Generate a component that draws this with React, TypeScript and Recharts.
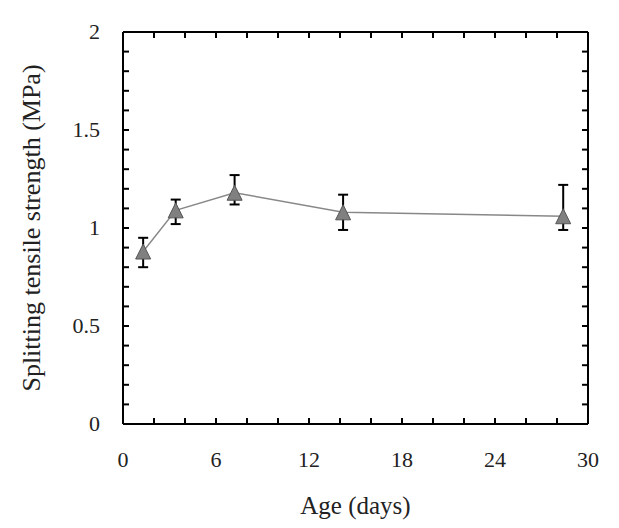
import React from 'react';
import { LineChart, Line, XAxis, YAxis, ErrorBar } from 'recharts';

const ages = [1.3, 3.4, 7.2, 14.2, 28.4];
const strength = [0.88, 1.09, 1.18, 1.08, 1.06];
const errLow = [0.08, 0.07, 0.06, 0.09, 0.07];
const errHigh = [0.07, 0.055, 0.09, 0.09, 0.16];

const xTicks = [0, 2, 4, 6, 8, 10, 12, 14, 16, 18, 20, 22, 24, 26, 28, 30];
const xLabels = [0, 6, 12, 18, 24, 30];
const yTicks = [0, 0.1, 0.2, 0.3, 0.4, 0.5, 0.6, 0.7, 0.8, 0.9, 1, 1.1, 1.2, 1.3, 1.4, 1.5, 1.6, 1.7, 1.8, 1.9, 2];
const yLabels = ['0', '0.5', '1', '1.5', '2'];

const data = ages.map((age, i) => ({
  age,
  strength: strength[i],
  err: [errLow[i], errHigh[i]],
}));

const FONT = 'Times New Roman, Liberation Serif, DejaVu Serif, Noto Serif, serif';
const TEXT = '#222';
const TICK_LEN = 6;
const textStyle = { fontFamily: FONT };

function BottomTick({ x, y, payload }: any) {
  const v = payload.value;
  const showLabel = xLabels.includes(v);
  return (
    <g>
      <line x1={x} y1={y} x2={x} y2={y - TICK_LEN} stroke="#000" strokeWidth={2} />
      {showLabel && (
        <text x={x} y={y + 43} textAnchor="middle" style={textStyle} fontFamily={FONT} fontSize={22} fill={TEXT}>
          {v}
        </text>
      )}
    </g>
  );
}

function TopTick({ x, y }: any) {
  return <line x1={x} y1={y} x2={x} y2={y + TICK_LEN} stroke="#000" strokeWidth={2} />;
}

function LeftTick({ x, y, payload }: any) {
  const label = String(Math.round(payload.value * 10) / 10);
  const showLabel = yLabels.includes(label);
  return (
    <g>
      <line x1={x} y1={y} x2={x + TICK_LEN} y2={y} stroke="#000" strokeWidth={2} />
      {showLabel && (
        <text x={x - 23} y={y + 7} textAnchor="end" style={textStyle} fontFamily={FONT} fontSize={22} fill={TEXT}>
          {label}
        </text>
      )}
    </g>
  );
}

function RightTick({ x, y }: any) {
  return <line x1={x} y1={y} x2={x - TICK_LEN} y2={y} stroke="#000" strokeWidth={2} />;
}

function TriangleDot({ cx, cy, index }: any) {
  if (cx == null || cy == null) return null;
  const w = 7.5;
  const h = 7.5;
  return (
    <polygon
      key={`dot-${index}`}
      points={`${cx},${cy - h} ${cx - w},${cy + h} ${cx + w},${cy + h}`}
      fill="#808080"
      stroke="#555"
      strokeWidth={1}
    />
  );
}

export default function App() {
  return (
    <div style={{ position: 'absolute', left: 0, top: 0, width: 619, height: 528, background: '#fff', fontFamily: FONT }}>
      <LineChart width={619} height={528} data={data} margin={{ top: 31, right: 30, left: 0, bottom: 0 }}>
        <XAxis
          dataKey="age"
          type="number"
          domain={[0, 30]}
          ticks={xTicks}
          height={104}
          tickLine={false}
          tickSize={0}
          tickMargin={0}
          axisLine={{ stroke: '#000', strokeWidth: 2 }}
          tick={<BottomTick />}
          interval={0}
          label={{
            value: 'Age (days)',
            position: 'insideBottom',
            offset: 14,
            style: { fontFamily: FONT },
            fontSize: 25,
            fill: TEXT,
          }}
        />
        <XAxis
          xAxisId="top"
          dataKey="age"
          orientation="top"
          type="number"
          domain={[0, 30]}
          ticks={xTicks}
          height={1}
          tickLine={false}
          tickSize={0}
          tickMargin={0}
          axisLine={{ stroke: '#000', strokeWidth: 2 }}
          tick={<TopTick />}
          interval={0}
        />
        <YAxis
          type="number"
          domain={[0, 2]}
          ticks={yTicks}
          width={123}
          tickLine={false}
          tickSize={0}
          tickMargin={0}
          axisLine={{ stroke: '#000', strokeWidth: 2 }}
          tick={<LeftTick />}
          interval={0}
          label={{
            value: 'Splitting tensile strength (MPa)',
            angle: -90,
            position: 'insideLeft',
            offset: 31,
            style: { textAnchor: 'middle', fontFamily: FONT },
            fontSize: 26,
            fill: TEXT,
          }}
        />
        <YAxis
          yAxisId="right"
          orientation="right"
          type="number"
          domain={[0, 2]}
          ticks={yTicks}
          width={1}
          tickLine={false}
          tickSize={0}
          tickMargin={0}
          axisLine={{ stroke: '#000', strokeWidth: 2 }}
          tick={<RightTick />}
          interval={0}
        />
        {/* invisible series so the top/right frame axes get drawn */}
        <Line
          xAxisId="top"
          yAxisId="right"
          dataKey="strength"
          stroke="none"
          dot={false}
          activeDot={false}
          legendType="none"
          isAnimationActive={false}
        />
        <Line
          dataKey="strength"
          stroke="#888"
          strokeWidth={1.5}
          dot={TriangleDot}
          activeDot={false}
          isAnimationActive={false}
        >
          <ErrorBar dataKey="err" width={5} stroke="#000" strokeWidth={2} direction="y" />
        </Line>
      </LineChart>
    </div>
  );
}
